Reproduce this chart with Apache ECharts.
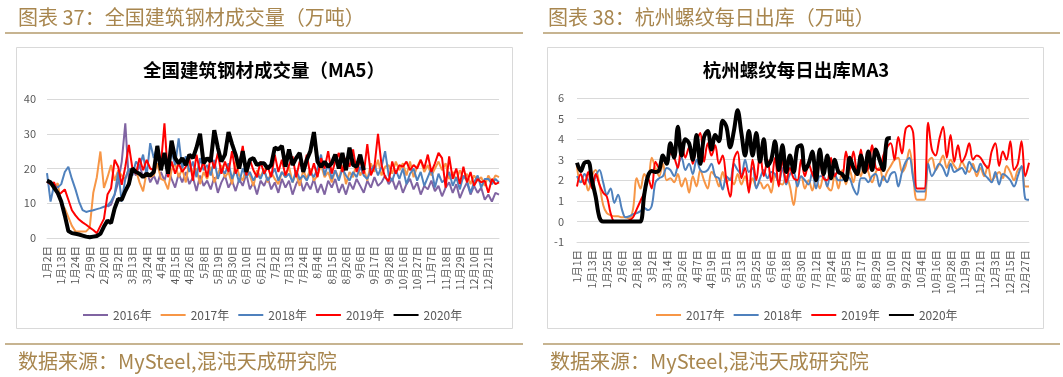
<!DOCTYPE html>
<html>
<head>
<meta charset="utf-8">
<script src="https://cdn.jsdelivr.net/npm/echarts@6/dist/echarts.min.js"></script>
<style>
html,body{margin:0;padding:0;background:#fff;}
#c{width:1063px;height:377px;}
</style>
</head>
<body>
<div id="c"></div>
<script>
// ---------- Left chart: 全国建筑钢材成交量（MA5） ----------
const leftTickLabels = ['1月2日','1月13日','1月24日','2月9日','2月20日','3月2日','3月13日','3月24日','4月4日','4月15日','4月26日','5月8日','5月19日','5月30日','6月10日','6月21日','7月2日','7月13日','7月24日','8月4日','8月15日','8月26日','9月6日','9月17日','9月28日','10月16日','10月27日','11月7日','11月18日','11月29日','12月10日','12月21日'];
const leftPointsPerTick = 4;
const leftPointCount = 128;

const left2016 = [null,null,null,null,null,null,null,null,null,null,null,null,null,null,null,null,null,
  9, 9.6, 12.5,
  16, 22, 33, 16.5, 20,
  18, 21, 17.5, 19.5, 16,
  18, 15.5, 19, 16.5, 20,
  17, 14.5, 18.5, 16, 19,
  15.5, 17.5, 13.5, 18, 15,
  16.5, 14, 17.5, 13, 16,
  18, 14.5, 16.5, 13.5, 17,
  15, 18.5, 14, 16, 12.5,
  16.5, 15, 17.5, 14, 16,
  13, 17, 14.5, 16.5, 12.5,
  15.5, 17.5, 13.5, 16, 14,
  17, 13, 15.5, 12.5, 16.5,
  14.5, 17, 13, 15.5, 12.5,
  16, 14, 17, 15, 13,
  16.5, 14.5, 17.5, 15, 16,
  18, 15.5, 17, 14, 16.5,
  13, 15.5, 17, 14, 16,
  12.5, 15, 14, 16.5, 13.5,
  15, 12, 14.5, 16, 13,
  15.5, 11.5, 14, 16, 12.5,
  15, 13, 14.5, 11, 12.5,
  10.5, 13, 12.5];
const left2017 = [15.8, 16, 14.5, 15.8, 9.6,
  8.5, 6, 3.5, 1.9, 1.9,
  1.9, 1.9, 3, 13, 17.5,
  24.9, 14.4, 17.5, 21, 16.5,
  19.5, 18, 17, 20, 18.5,
  19.5, 16, 13.4, 19, 17.5,
  18, 21.5, 17, 16.5, 14,
  19.5, 21.5, 17.5, 20, 16,
  22, 18.5, 20, 15.5, 19,
  17, 20.5, 16, 18.5, 21,
  17.5, 19, 15.5, 22, 18,
  16.5, 20.5, 18, 15, 19.5,
  17.5, 20, 16, 19, 17,
  15.5, 19, 17.5, 20.5, 16,
  18.5, 15, 19.5, 17, 20,
  16.5, 18, 21, 17.5, 19,
  16, 19.5, 17, 21, 15.5,
  19, 17.5, 22, 18, 20,
  16.5, 21.5, 19, 22.5, 18,
  20.5, 21, 18.5, 22, 19.5,
  21.5, 18, 22, 17.5, 20.5,
  22.5, 19, 21, 18, 20,
  22, 19.5, 21.5, 17, 19,
  16.5, 19.5, 17, 18.5, 15.5,
  18, 16.5, 17.5, 15, 18,
  16, 18, 17.5];
const left2018 = [18.7, 10.5, 15.3, 14.5, 15.5,
  19, 20.5, 17, 14, 10.5,
  8, 7.5, 7.8, 8, 8.3,
  8.6, 9, 9.3, 10.5, 12.5,
  19, 10.5, 17, 20, 18,
  22, 20.5, 24, 18, 27.3,
  23, 26.5, 21.5, 24, 19.5,
  25, 21, 28.7, 20, 23.5,
  19, 22, 17.5, 23, 19.5,
  21, 18, 22.5, 17, 20,
  18.5, 21.5, 17, 19.5, 16,
  20, 17.5, 19, 16.5, 18.5,
  17, 19.5, 16.5, 18, 20,
  16.5, 19, 17.5, 18.5, 16,
  19.5, 17, 18, 16.5, 19,
  17.5, 20, 24, 18, 21.5,
  17, 19.5, 16.5, 20, 18,
  16.5, 19, 17.5, 20.5, 18,
  17, 19.5, 21, 18, 20.5,
  25, 18, 16.5, 19.5, 17,
  20, 15.5, 18.5, 20, 16.5,
  19, 15, 17.5, 20, 14.5,
  18.5, 16, 17, 19, 15,
  17.5, 14, 18, 16.5, 13,
  16, 18, 14.5, 17, 17,
  15.5, 17, 16];
const left2019 = [16.3, 15.5, 16, 12.5, 13,
  14, 11, 8, 6.5, 5.3,
  4.5, 3.8, 3, 2.3, 1.4,
  3.5, 5.5, 12.5, 14.3, 22.5,
  20.5, 15.3, 20.5, 26.8, 20,
  18.5, 23, 19.5, 22.5, 20,
  19.5, 24, 21, 33, 17.5,
  22, 18.5, 21.5, 19, 20.5,
  23, 16.5, 24, 19, 22,
  17.5, 23.5, 20, 24.5, 18.5,
  22, 19, 25, 18.5, 21,
  26.5, 18, 22.5, 19.5, 17.5,
  22, 18.5, 20.5, 17.5, 24,
  19, 22.5, 18, 21, 23.5,
  17.5, 22, 19.5, 24, 18,
  21.5, 17.5, 23, 20, 25,
  18.5, 22, 24.5, 19, 23,
  20.5, 25.5, 19, 22.5, 18.5,
  27, 18, 20.5, 30, 21,
  17.5, 16.3, 22, 18.5, 21,
  20.5, 22, 19.5, 21, 20,
  22.5, 20, 24, 19, 21.5,
  24.5, 23, 14.5, 23.5, 17,
  20, 15.5, 20.5, 16, 19,
  15, 17, 16, 16.5, 13,
  17, 15.5, 16];
const left2020 = [16.5, 16, 14.5, 13, 10.5,
  6.5, 2, 1.4, 1.2, 1.0,
  0.7, 0.4, 0.2, 0.4, 0.6,
  1.2, 3.3, 5.0, 4.3, 8.5,
  11.2, 11.0, 13.5, 15.5, 20,
  19, 18.5, 17.5, 18.5, 18,
  19, 26.5, 19.5, 24.5, 18.5,
  28, 23, 21.5, 23, 21,
  24, 23, 26, 30, 21.5,
  23, 22, 31, 26, 22,
  24, 30.5, 27, 24, 20,
  25, 19, 22.5, 23, 21,
  21.5, 21.5, 20, 21, 26,
  25.5, 26.5, 20.5, 25.5, 21,
  23, 24.5, 19, 22.5, 25,
  30.5, 22, 20.5, 22, 20.5,
  21.5, 24, 20, 24.5, 19.5,
  26, 21, 20.5, 24, 19.5];

// ---------- Right chart: 杭州螺纹每日出库MA3 ----------
const rightTickLabels = ['1月1日','1月13日','1月25日','2月6日','2月18日','3月2日','3月14日','3月26日','4月7日','4月19日','5月1日','5月13日','5月25日','6月6日','6月18日','6月30日','7月12日','7月24日','8月5日','8月17日','8月29日','9月10日','9月22日','10月4日','10月16日','10月28日','11月9日','11月21日','12月3日','12月15日','12月27日'];
const rightPointsPerTick = 4;
const rightPointCount = 122;

const right2017 = [2.7, 1.9, 2.0, 1.5, 2.2,
  2.5, 1.8, 0.8, 0.4, 0.3,
  0.25, 0.25, 0.2, 0.2, 0.15,
  0.6, 2.1, 1.6, 2.3, 2.0,
  3.1, 2.6, 2.2, 2.8, 2.0,
  2.1, 1.9, 2.3, 1.7, 2.1,
  1.4, 2.2, 1.7, 2.5, 2.0,
  1.6, 2.4, 2.2, 1.7, 2.4,
  1.9, 2.1, 1.8, 2.3, 1.8,
  2.2, 1.6, 2.1, 1.7, 1.9,
  1.6, 1.8, 1.4, 2.3, 1.9,
  1.8, 2.2, 1.7, 0.8, 1.9,
  2.2, 1.6, 2.0, 1.5, 2.1,
  1.6, 2.2, 1.7, 1.5, 2.3,
  1.6, 2.5, 1.8, 2.5, 1.9,
  2.7, 2.2, 2.9, 2.4, 1.9,
  2.4, 2.6, 2.0, 2.4, 2.7,
  3.0, 3.1, 2.4, 2.7, 3.5,
  2.2, 1.05, 1.05, 1.05, 2.9,
  3.1, 2.5, 2.8, 3.2, 2.6,
  3.0, 2.7, 2.5, 2.9, 2.6,
  2.4, 2.8, 2.2, 2.6, 2.2,
  2.7, 2.0, 2.2, 2.4, 2.1,
  2.7, 2.4, 2.0, 2.5, 2.6,
  1.7, 1.7];
const right2018 = [2.2, 1.9, 2.3, 2.0, 1.7,
  2.2, 2.5, 1.9, 1.3, 1.6,
  0.9, 1.3, 0.6, 0.2, 0.25,
  0.35, 0.4, 0.5, 0.65, 0.55,
  0.75, 1.9, 2.1, 2.2, 2.6,
  2.5, 2.2, 2.7, 3.1, 2.5,
  2.8, 2.3, 3.0, 2.5, 2.4,
  2.5, 2.8, 2.2, 2.1, 1.55,
  2.2, 2.0, 2.8, 2.5, 2.3,
  3.0, 2.4, 2.6, 1.6, 2.1,
  2.5, 2.1, 2.4, 2.3, 1.9,
  2.6, 1.8, 2.3, 2.4, 1.7,
  2.2, 2.0, 1.8, 2.4, 1.6,
  2.2, 2.2, 1.7, 2.4, 2.3,
  2.0, 2.0, 2.2, 2.1, 1.6,
  1.3, 2.1, 2.1, 1.9, 2.2,
  2.3, 1.7, 2.2, 1.9, 2.3,
  2.4, 1.7, 2.4, 2.9, 3.1,
  2.1, 1.45, 1.45, 1.45, 2.8,
  2.2, 2.5, 2.8, 2.6, 2.2,
  2.8, 2.4, 2.5, 2.6, 2.3,
  2.9, 2.6, 2.4, 2.8, 2.3,
  2.1, 1.9, 2.4, 1.8, 2.3,
  2.2, 2.0, 1.7, 2.2, 2.7,
  1.1, 1.05];
const right2019 = [1.7, 2.3, 1.8, 2.4, 1.6,
  2.3, 1.8, 1.4, 1.2, 0.4,
  0, 0, 0, 0, 0.05,
  0.2, 0.6, 1.0, 1.4, 2.1,
  1.6, 2.9, 2.6, 3.0, 2.8,
  3.3, 3.1, 2.6, 3.8, 3.1,
  3.6, 2.8, 3.8, 4.3, 2.9,
  3.8, 3.2, 3.7, 2.8, 3.2,
  2.0, 1.2, 3.0, 3.4, 2.1,
  2.6, 1.4, 3.0, 2.0, 3.3,
  2.2, 3.0, 1.9, 3.1, 1.7,
  3.0, 1.9, 2.6, 2.1, 2.0,
  3.0, 2.2, 2.8, 2.3, 2.0,
  3.0, 2.1, 2.0, 3.1, 2.2,
  2.5, 2.2, 3.4, 2.5, 3.4,
  2.3, 3.5, 2.4, 2.6, 3.7,
  2.6, 2.5, 3.2, 3.6, 3.8,
  3.0, 4.1, 3.3, 4.5, 4.65,
  4.3, 1.6, 1.6, 1.6, 4.8,
  3.5, 3.2, 4.0, 4.6, 3.1,
  4.2, 2.9, 3.7, 2.9, 3.2,
  3.8, 3.0, 3.2, 3.1, 2.8,
  2.6, 3.4, 3.8, 2.7, 3.4,
  3.0, 3.9, 2.5, 2.8, 3.9,
  2.2, 2.85];
const right2020 = [2.85, 2.45, 2.85, 2.9, 2.0,
  1.2, 0.2, 0, 0, 0,
  0, 0, 0, 0, 0,
  0, 0, 0, 1.3, 2.2,
  2.45, 2.4, 2.5, 3.2, 2.8,
  3.8, 3.1, 4.6, 3.2, 4.0,
  3.8, 3.0, 4.2, 2.8, 4.1,
  4.4, 3.5, 4.2, 3.9, 4.9,
  4.6, 3.6, 4.4, 5.4, 4.3,
  3.2, 4.4, 3.2, 4.3, 2.9,
  4.0, 2.7, 3.0, 3.9, 2.5,
  3.7, 2.4, 3.2, 2.4, 3.6,
  3.7, 2.5, 2.8, 3.4, 2.0,
  3.5, 2.3, 3.2, 2.1, 3.0,
  2.4, 2.3, 2.0, 3.1, 2.6,
  2.3, 3.2, 2.4, 3.4, 2.5,
  3.5, 3.0, 2.5, 4.0, 4.05];

const seriesNamesLeft = ['2016年','2017年','2018年','2019年','2020年'];
const seriesNamesRight = ['2017年','2018年','2019年','2020年'];
const colors = {'2016年':'#8064a2','2017年':'#f79646','2018年':'#4f81bd','2019年':'#ff0000','2020年':'#000000'};

function buildCategories(tickLabels, perTick, count) {
  const cats = [];
  for (let i = 0; i < count; i++) {
    const k = i / perTick;
    if (i % perTick === 0 && k < tickLabels.length) cats.push(tickLabels[k]);
    else cats.push('·' + i);
  }
  return cats;
}
const leftCats = buildCategories(leftTickLabels, leftPointsPerTick, leftPointCount);
const rightCats = buildCategories(rightTickLabels, rightPointsPerTick, rightPointCount);

const CJK = "'Noto Sans CJK SC', 'Noto Sans', sans-serif";
const gold = '#a8864e';
const goldLine = '#b59b6c';
const frame = '#d9d9d9';

function mkSeries(name, data, axisIdx, smooth) {
  const black = name === '2020年';
  return {
    name: name, type: 'line', data: data,
    xAxisIndex: axisIdx, yAxisIndex: axisIdx,
    showSymbol: false, symbol: 'circle', smooth: smooth,
    connectNulls: false,
    lineStyle: {width: black ? 4 : 2, color: colors[name]},
    itemStyle: {color: colors[name]},
    emphasis: {disabled: true},
    z: black ? 5 : 2
  };
}

const xAxisBase = {
  type: 'category', boundaryGap: false,
  axisTick: {show: false},
  axisLine: {show: true, onZero: false, lineStyle: {color: frame, width: 1}},
  axisLabel: {rotate: 90, interval: 3, fontSize: 10.5, color: '#595959', margin: 8, fontFamily: CJK},
  splitLine: {show: false}
};
const yAxisBase = {
  type: 'value',
  axisLine: {show: false}, axisTick: {show: false},
  axisLabel: {fontSize: 11, color: '#595959', fontFamily: CJK},
  splitLine: {show: true, lineStyle: {color: frame, width: 1}}
};

const option = {
  backgroundColor: '#fff',
  animation: false,
  grid: [
    {left: 47, right: 1063 - 499, top: 99, bottom: 377 - 238, containLabel: false, outerBoundsMode: 'none'},
    {left: 577, right: 1063 - 1029, top: 98, bottom: 377 - 242, containLabel: false, outerBoundsMode: 'none'}
  ],
  xAxis: [
    Object.assign({}, xAxisBase, {gridIndex: 0, data: leftCats}),
    Object.assign({}, xAxisBase, {gridIndex: 1, data: rightCats})
  ],
  yAxis: [
    Object.assign({}, yAxisBase, {gridIndex: 0, min: 0, max: 40, interval: 10, axisLabel: Object.assign({}, yAxisBase.axisLabel, {margin: 11})}),
    Object.assign({}, yAxisBase, {gridIndex: 1, min: -1, max: 6, interval: 1, axisLabel: Object.assign({}, yAxisBase.axisLabel, {margin: 13})})
  ],
  legend: [
    {left: 77, top: 304, itemWidth: 25, itemHeight: 14, itemGap: 8, selectedMode: false,
     data: seriesNamesLeft, itemStyle: {opacity: 0},
     textStyle: {fontSize: 12, color: '#595959', fontFamily: CJK}},
    {left: 650, top: 304, itemWidth: 25, itemHeight: 14, itemGap: 8, selectedMode: false,
     data: seriesNamesRight, itemStyle: {opacity: 0},
     textStyle: {fontSize: 12, color: '#595959', fontFamily: CJK}}
  ],
  series: [
    mkSeries('2016年', left2016, 0, false),
    mkSeries('2017年', left2017, 0, false),
    mkSeries('2018年', left2018, 0, false),
    mkSeries('2019年', left2019, 0, false),
    mkSeries('2020年', left2020, 0, false),
    mkSeries('2017年', right2017, 1, 0.35),
    mkSeries('2018年', right2018, 1, 0.35),
    mkSeries('2019年', right2019, 1, 0.35),
    mkSeries('2020年', right2020, 1, 0.35)
  ],
  graphic: [
    // headers
    {type: 'text', x: 18, y: 17, z: 10, style: {text: '图表 37：全国建筑钢材成交量（万吨）', fill: gold, fontSize: 20, fontFamily: CJK, verticalAlign: 'middle', align: 'left'}},
    {type: 'text', x: 548, y: 17, z: 10, style: {text: '图表 38：杭州螺纹每日出库（万吨）', fill: gold, fontSize: 20, fontFamily: CJK, verticalAlign: 'middle', align: 'left'}},
    {type: 'line', shape: {x1: 5, y1: 33, x2: 523, y2: 33}, style: {stroke: goldLine, lineWidth: 1.5}},
    {type: 'line', shape: {x1: 543, y1: 33, x2: 1060, y2: 33}, style: {stroke: goldLine, lineWidth: 1.5}},
    // frames
    {type: 'rect', shape: {x: 16.5, y: 47.5, width: 496, height: 281}, style: {fill: 'none', stroke: frame, lineWidth: 1}, z: -1},
    {type: 'rect', shape: {x: 547.5, y: 47.5, width: 496, height: 281}, style: {fill: 'none', stroke: frame, lineWidth: 1}, z: -1},
    // chart titles
    {type: 'text', x: 264, y: 70, z: 10, style: {text: '全国建筑钢材成交量（MA5）', fill: '#000', fontSize: 18.5, fontWeight: 'bold', fontFamily: CJK, align: 'center', verticalAlign: 'middle'}},
    {type: 'text', x: 796, y: 70, z: 10, style: {text: '杭州螺纹每日出库MA3', fill: '#000', fontSize: 18.5, fontWeight: 'bold', fontFamily: CJK, align: 'center', verticalAlign: 'middle'}},
    // footers
    {type: 'line', shape: {x1: 5, y1: 344, x2: 523, y2: 344}, style: {stroke: goldLine, lineWidth: 1.5}},
    {type: 'line', shape: {x1: 543, y1: 344, x2: 1060, y2: 344}, style: {stroke: goldLine, lineWidth: 1.5}},
    {type: 'text', x: 18, y: 361, z: 10, style: {text: '数据来源：MySteel,混沌天成研究院', fill: gold, fontSize: 20, fontFamily: CJK, align: 'left', verticalAlign: 'middle'}},
    {type: 'text', x: 550, y: 361, z: 10, style: {text: '数据来源：MySteel,混沌天成研究院', fill: gold, fontSize: 20, fontFamily: CJK, align: 'left', verticalAlign: 'middle'}}
  ]
};

const chart = echarts.init(document.getElementById('c'), null, {renderer: 'canvas'});
chart.setOption(option);
</script>
</body>
</html>
